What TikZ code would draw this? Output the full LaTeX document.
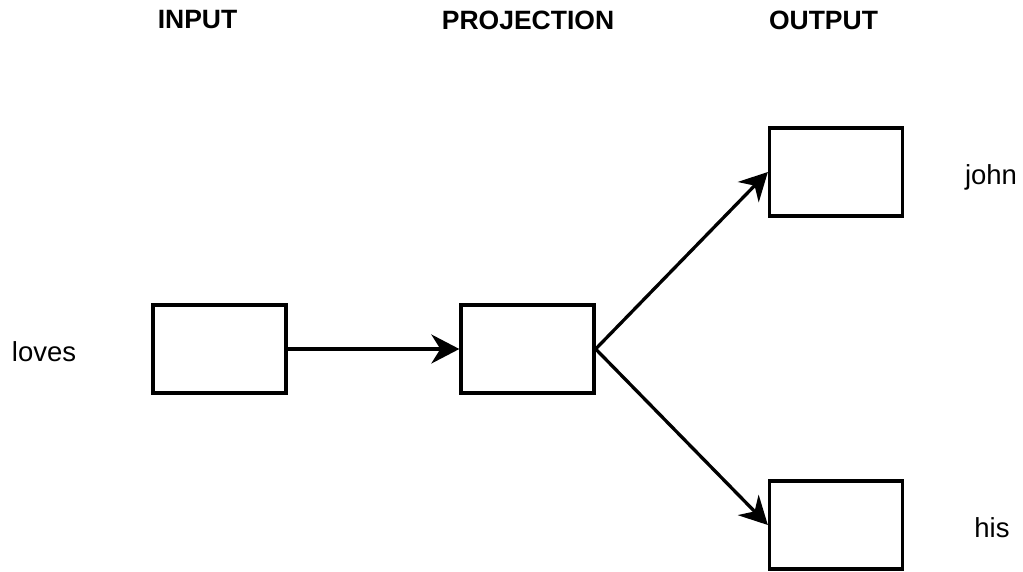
\documentclass[tikz,border=0pt]{standalone}
\usepackage{fontspec}
\setmainfont{Liberation Sans}
\usetikzlibrary{arrows.meta}
\begin{document}
\begin{tikzpicture}[x=1pt,y=-1pt,
  box/.style={draw=black,line width=3.3pt,minimum width=133pt,minimum height=88pt,inner sep=0pt,fill=white},
  head/.style={font=\fontsize{26.5}{30}\selectfont\bfseries,inner sep=0pt},
  lbl/.style={font=\fontsize{27.5}{32}\selectfont,inner sep=0pt},
  conn/.style={line width=3.3pt,-{Stealth[length=28pt,width=29pt,inset=9pt]}}]
\useasboundingbox (0,0) rectangle (1023,571);
\node[box] (in) at (219.5,349) {};
\node[box] (proj) at (527.5,349) {};
\node[box] (john) at (836,172) {};
\node[box] (his) at (836,525) {};
\node[head] (hin) at (197.5,20) {INPUT};
\node[head] (hproj) at (528,20) {PROJECTION};
\node[head] (hout) at (823.5,20) {OUTPUT};
\node[lbl] (loves) at (44,352) {loves};
\node[lbl] (tjohn) at (991,177) {john};
\node[lbl] (this) at (992,528) {his};
\draw[conn] (in.east) -- (proj.west);
\draw[conn] (proj.east) -- (john.west);
\draw[conn] (proj.east) -- (his.west);
\end{tikzpicture}
\end{document}
